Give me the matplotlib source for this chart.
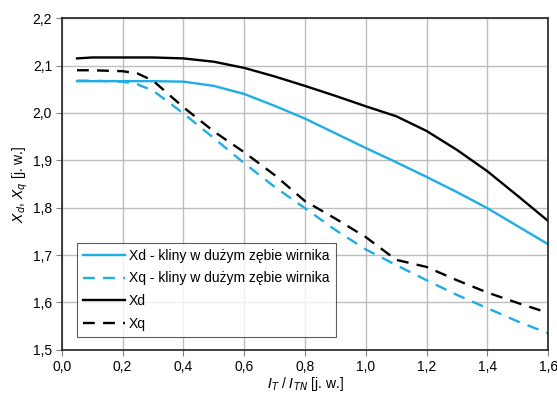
import numpy as np
import matplotlib.pyplot as plt
from matplotlib.ticker import FuncFormatter

plt.rcParams['font.family'] = ['Liberation Sans', 'DejaVu Sans']

# prąd względny I_T / I_TN
x = [0.05, 0.1, 0.2, 0.25, 0.3, 0.4, 0.5, 0.6, 0.7, 0.8, 0.9, 1.0, 1.1, 1.2, 1.3, 1.4, 1.5, 1.6]

xd_kliny = [2.067, 2.067, 2.067, 2.067, 2.067, 2.066, 2.057, 2.040, 2.015, 1.988, 1.957, 1.926,
            1.896, 1.865, 1.833, 1.799, 1.761, 1.723]
xq_kliny = [2.068, 2.068, 2.066, 2.060, 2.047, 1.999, 1.947, 1.894, 1.844, 1.799, 1.753, 1.712,
            1.679, 1.647, 1.616, 1.588, 1.560, 1.535]
xd = [2.115, 2.117, 2.117, 2.117, 2.117, 2.115, 2.108, 2.095, 2.077, 2.057, 2.036, 2.014,
      1.993, 1.962, 1.922, 1.877, 1.825, 1.772]
xq = [2.090, 2.090, 2.088, 2.083, 2.068, 2.012, 1.961, 1.917, 1.869, 1.814, 1.777, 1.738,
      1.690, 1.675, 1.647, 1.621, 1.599, 1.578]

blue = '#1eaee6'

fig = plt.figure(figsize=(5.57, 3.94), dpi=100)
ax = fig.add_axes([0.111, 0.112, 0.873, 0.842])

ax.plot(x, xd_kliny, color=blue, lw=1.7, label='Xd - kliny w dużym zębie wirnika')
ax.plot(x, xq_kliny, color=blue, lw=1.7, ls=(0, (5, 3.5)), label='Xq - kliny w dużym zębie wirnika')
ax.plot(x, xd, color='black', lw=1.7, label='Xd')
ax.plot(x, xq, color='black', lw=1.7, ls=(0, (5, 3.5)), label='Xq')

ax.set_xlim(0, 1.6)
ax.set_ylim(1.5, 2.2)
ax.set_xticks(np.arange(0, 1.61, 0.2))
ax.set_yticks(np.arange(1.5, 2.21, 0.1))
comma = FuncFormatter(lambda v, p: f'{v:.1f}'.replace('.', ','))
ax.xaxis.set_major_formatter(comma)
ax.yaxis.set_major_formatter(comma)
ax.tick_params(labelsize=10, direction='out', length=4, color='#808080', pad=3)
ax.grid(True, color='#bdbdbd', lw=1.0)
ax.set_axisbelow(True)
for s in ax.spines.values():
    s.set_color('#222222')
    s.set_linewidth(1.2)

ax.set_xlabel(r'$I_T$ / $I_{TN}$ [j. w.]', fontsize=10, labelpad=1)
ax.set_ylabel(r'$X_d$, $X_q$ [j. w.]', fontsize=10, labelpad=2)

leg = ax.legend(loc='lower left', bbox_to_anchor=(0.031, 0.039), fontsize=10, frameon=True,
                fancybox=False, edgecolor='#333333', handlelength=3.0, handletextpad=0.3,
                labelspacing=0.62, borderpad=0.45, borderaxespad=0)
leg.get_frame().set_linewidth(0.8)

fig.savefig('out.png', dpi=100)
